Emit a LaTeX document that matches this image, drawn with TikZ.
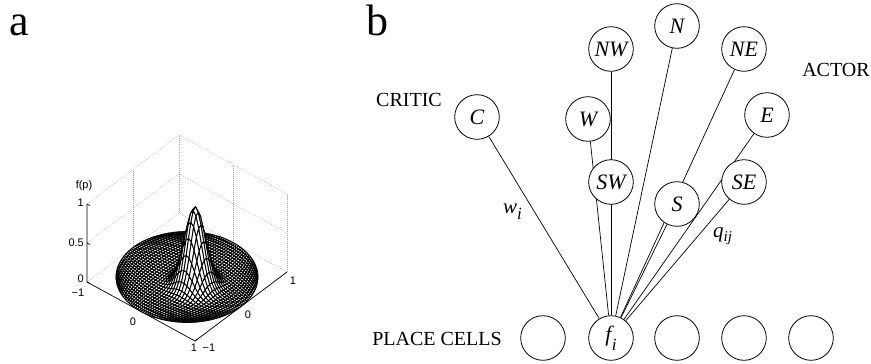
\documentclass[tikz,border=0pt]{standalone}
\usepackage{fontspec}
\setmainfont{Liberation Serif}
\newfontfamily\axfont{Liberation Sans}
\usetikzlibrary{backgrounds}
\tikzset{
  unit/.style={circle, draw, fill=white, minimum size=44.6pt, inner sep=0pt, line width=0.8pt,
    font=\fontsize{22}{22}\selectfont\itshape},
  conn/.style={line width=0.7pt},
  grid3d/.style={gray!75, dash pattern=on 0.7pt off 1.3pt, line width=0.5pt},
  axis3d/.style={line width=0.7pt},
  meshq/.style={fill=white, draw=black, line width=0.9pt},
  ticklab/.style={font=\axfont\fontsize{11}{11}\selectfont, inner sep=0pt},
  biglab/.style={font=\fontsize{20}{20}\selectfont, anchor=base, inner sep=0pt},
  wlab/.style={font=\fontsize{21}{21}\selectfont\itshape, anchor=base west, inner sep=0pt},
  panel/.style={font=\fontsize{44}{44}\selectfont, anchor=base, inner sep=0pt},
}
\begin{document}
\begin{tikzpicture}[x=1pt, y=-1pt, line join=round]
\useasboundingbox (0,0) rectangle (871,364);

% ---------------- panel a ----------------
\node[panel] (pa) at (19,35) {a};

% box corners
\coordinate (L) at (87,282);
\coordinate (F) at (195,341);
\coordinate (R) at (287,272);
\coordinate (B) at (179,213);
\coordinate (Lt) at (87,204);
\coordinate (Rt) at (287,194);
\coordinate (Bt) at (179,135);
\coordinate (Lm) at (87,243);
\coordinate (Rm) at (287,233);
\coordinate (Bm) at (179,174);
\coordinate (W0) at (133,247.5);
\coordinate (W0t) at (133,169.5);
\coordinate (V0) at (233,242.5);
\coordinate (V0t) at (233,164.5);
\coordinate (Fm1) at (141,311.5);
\coordinate (Fm2) at (241,306.5);

% dotted grid
\draw[grid3d] (Lt) -- (Bt) -- (Rt);
\draw[grid3d] (Lm) -- (Bm) -- (Rm);
\draw[grid3d] (L) -- (B) -- (R);
\draw[grid3d] (B) -- (Bt);
\draw[grid3d] (R) -- (Rt);
\draw[grid3d] (W0) -- (W0t);
\draw[grid3d] (V0) -- (V0t);
\draw[grid3d] (W0) -- (Fm2);
\draw[grid3d] (Fm1) -- (V0);

% surface vertices
\foreach \i in {0,...,40}{
  \foreach \j in {0,...,40}{
    \pgfmathsetmacro\xx{\i/20-1}
    \pgfmathsetmacro\yy{\j/20-1}
    \pgfmathsetmacro\uu{\xx*sqrt(1-\yy*\yy/2)}
    \pgfmathsetmacro\vv{\yy*sqrt(1-\xx*\xx/2)}
    \pgfmathsetmacro\ee{((\uu-0.2)*(\uu-0.2)+(\vv+0.06)*(\vv+0.06))/0.045}
    \pgfmathsetmacro\zz{exp(-min(\ee,12))}
    \coordinate (s\i-\j) at ({187+54*\uu+46*\vv},{277+29.5*\uu-34.5*\vv-78*\zz});
  }
}
% surface quads, back to front
\foreach \k in {-39,...,39}{
  \pgfmathtruncatemacro\ilo{max(0,\k)}
  \pgfmathtruncatemacro\ihi{min(39,39+\k)}
  \foreach \i in {\ihi,...,\ilo}{
    \pgfmathtruncatemacro\j{\i-\k}
    \pgfmathtruncatemacro\ip{\i+1}
    \pgfmathtruncatemacro\jp{\j+1}
    \filldraw[meshq] (s\i-\j) -- (s\ip-\j) -- (s\ip-\jp) -- (s\i-\jp) -- cycle;
  }
}

% solid axes
\draw[axis3d] (Lt) -- (L) -- (F) -- (R);
\draw[axis3d] (Lt) -- ++(3,1.6);
\draw[axis3d] (Lm) -- ++(3,1.6);
\draw[axis3d] (L) -- ++(3,1.6);
\draw[axis3d] (Fm1) -- ++(2.5,-1.9);
\draw[axis3d] (F) -- ++(2.5,-1.9);
\draw[axis3d] (Fm2) -- ++(-3,-1.6);

% tick labels
\node[ticklab] (fp) at (84,186) {f(p)};
\node[ticklab, anchor=east] (z1) at (84,203) {1};
\node[ticklab, anchor=east] (z05) at (84,243) {0.5};
\node[ticklab, anchor=east] (z0) at (84,279) {0};
\node[ticklab] (xm1) at (78,293) {−1};
\node[ticklab] (x0) at (133,322) {0};
\node[ticklab] (x1) at (194,348) {1};
\node[ticklab] (ym1) at (209,348) {−1};
\node[ticklab] (y0) at (248,315) {0};
\node[ticklab] (y1) at (293,281) {1};

% ---------------- panel b ----------------
\node[panel] (pb) at (377,35) {b};

\node[unit] (C)  at (477,117) {C};
\node[unit] (NW) at (611,49)  {NW};
\node[unit] (N)  at (677,26)  {N};
\node[unit] (NE) at (744,49)  {NE};
\node[unit] (W)  at (588,119) {W};
\node[unit] (E)  at (767,115) {E};
\node[unit] (SW) at (611,182) {SW};
\node[unit] (SE) at (744,182) {SE};
\node[unit] (S)  at (677,204) {S};

\node[unit] (p1) at (543,338) {};
\node[unit] (f)  at (611,338) {f\kern0.5pt\raisebox{-9pt}{\fontsize{17}{17}\selectfont i}};
\node[unit] (p3) at (677,338) {};
\node[unit] (p4) at (744,338) {};
\node[unit] (p5) at (811,338) {};

\begin{scope}[on background layer]
  \foreach \t in {C,NW,N,NE,W,E,SW,SE,S}{
    \draw[conn] (f) -- (\t);
  }
\end{scope}

\node[biglab] (critic) at (409,106) {CRITIC};
\node[biglab] (actor) at (836,76) {ACTOR};
\node[biglab] (place) at (437,345) {PLACE CELLS};

\node[wlab] (wi) at (503,213) {w\raisebox{-6pt}{\fontsize{17}{17}\selectfont i}};
\node[wlab] (qij) at (713,237) {q\raisebox{-4pt}{\fontsize{15}{15}\selectfont ij}};
\end{tikzpicture}
\end{document}
